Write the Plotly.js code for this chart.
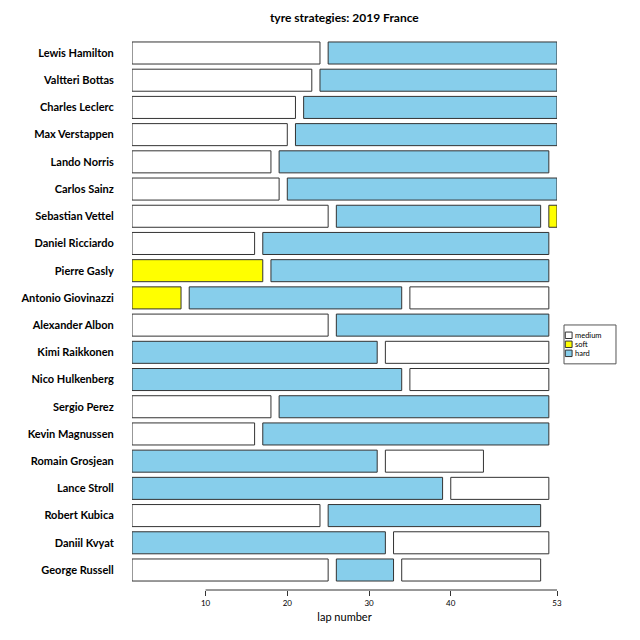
<!DOCTYPE html>
<html>
<head>
<meta charset="utf-8">
<script src="https://cdn.plot.ly/plotly-3.0.1.min.js"></script>
<style>
  html, body { margin: 0; padding: 0; background: #fff; }
  #plot { width: 640px; height: 640px; }
</style>
</head>
<body>
<div id="plot"></div>
<script>
// drivers, top to bottom
var drivers = [
  "Lewis Hamilton", "Valtteri Bottas", "Charles Leclerc", "Max Verstappen",
  "Lando Norris", "Carlos Sainz", "Sebastian Vettel", "Daniel Ricciardo",
  "Pierre Gasly", "Antonio Giovinazzi", "Alexander Albon", "Kimi Raikkonen",
  "Nico Hulkenberg", "Sergio Perez", "Kevin Magnussen", "Romain Grosjean",
  "Lance Stroll", "Robert Kubica", "Daniil Kvyat", "George Russell"
];

// stints per driver: compound, first lap, last lap
var stintCompounds = [
  ["medium", "hard"], ["medium", "hard"], ["medium", "hard"], ["medium", "hard"],
  ["medium", "hard"], ["medium", "hard"], ["medium", "hard", "soft"], ["medium", "hard"],
  ["soft", "hard"], ["soft", "hard", "medium"], ["medium", "hard"], ["hard", "medium"],
  ["hard", "medium"], ["medium", "hard"], ["medium", "hard"], ["hard", "medium"],
  ["hard", "medium"], ["medium", "hard"], ["hard", "medium"], ["medium", "hard", "medium"]
];
var stintStarts = [
  [1, 25], [1, 24], [1, 22], [1, 21],
  [1, 19], [1, 20], [1, 26, 52], [1, 17],
  [1, 18], [1, 8, 35], [1, 26], [1, 32],
  [1, 35], [1, 19], [1, 17], [1, 32],
  [1, 40], [1, 25], [1, 33], [1, 26, 34]
];
var stintEnds = [
  [24, 53], [23, 53], [21, 53], [20, 53],
  [18, 52], [19, 53], [25, 51, 53], [16, 52],
  [17, 52], [7, 34, 52], [25, 52], [31, 52],
  [34, 52], [18, 52], [16, 52], [31, 44],
  [39, 52], [24, 51], [32, 52], [25, 33, 51]
];

var compounds = ["medium", "soft", "hard"];
var compoundColors = { medium: "#FFFFFF", soft: "#FFFF00", hard: "#87CEEB" };

// one bar trace per compound
var data = compounds.map(function (c) {
  var y = [], base = [], len = [];
  drivers.forEach(function (d, i) {
    stintCompounds[i].forEach(function (sc, j) {
      if (sc === c) {
        y.push(d);
        base.push(stintStarts[i][j]);
        len.push(stintEnds[i][j] - stintStarts[i][j]);
      }
    });
  });
  return {
    type: "bar",
    orientation: "h",
    name: c,
    y: y,
    x: len,
    base: base,
    width: 0.81,
    marker: { color: compoundColors[c], line: { color: "#333333", width: 1 } },
    hoverinfo: "skip",
    showlegend: false
  };
});

var font = "Lato, 'DejaVu Sans', sans-serif";

// hand-made legend box at the right
var shapes = [
  { type: "line", xref: "x", yref: "paper", x0: 10, x1: 53, y0: 0, y1: 0,
    line: { color: "#333333", width: 1 } },
  { type: "rect", xref: "paper", yref: "paper", x0: 1.0165, x1: 1.1388, y0: 0.406, y1: 0.4758,
    line: { color: "#555555", width: 1 }, fillcolor: "rgba(0,0,0,0)" }
];
var annotations = [];
compounds.forEach(function (c, k) {
  var yc = 0.4573 - k * 0.0162;
  shapes.push({ type: "rect", xref: "paper", yref: "paper",
    x0: 1.0195, x1: 1.0355, y0: yc - 0.0058, y1: yc + 0.0058,
    fillcolor: compoundColors[c], line: { color: "#333333", width: 1 } });
  annotations.push({ xref: "paper", yref: "paper", x: 1.038, y: yc, text: c,
    showarrow: false, xanchor: "left", yanchor: "middle",
    font: { family: font, size: 7.5, color: "#000" } });
});

var layout = {
  width: 640,
  height: 640,
  margin: { l: 132, r: 83, t: 33, b: 50 },
  paper_bgcolor: "#fff",
  plot_bgcolor: "#fff",
  barmode: "overlay",
  showlegend: false,
  title: {
    text: "<b>tyre strategies: 2019 France</b>",
    x: 0.538, xanchor: "center", y: 0.972, yanchor: "middle",
    font: { family: font, size: 12, color: "#000" }
  },
  xaxis: {
    range: [1, 53],
    tickvals: [10, 20, 30, 40, 53],
    ticks: "outside", ticklen: 5, tickcolor: "#333333",
    showline: false, showgrid: false, zeroline: false,
    tickfont: { family: font, size: 8, color: "#000" },
    title: { text: "lap number", standoff: 6, font: { family: font, size: 11, color: "#000" } }
  },
  yaxis: {
    type: "category",
    categoryorder: "array",
    categoryarray: drivers,
    range: [19.735, -0.735],
    ticks: "outside", ticklen: 15, tickcolor: "rgba(0,0,0,0)",
    showline: false, showgrid: false, zeroline: false,
    tickfont: { family: font, size: 11, color: "#000", weight: "bold" }
  },
  shapes: shapes,
  annotations: annotations
};

Plotly.newPlot("plot", data, layout, { displayModeBar: false, staticPlot: true });
</script>
</body>
</html>
